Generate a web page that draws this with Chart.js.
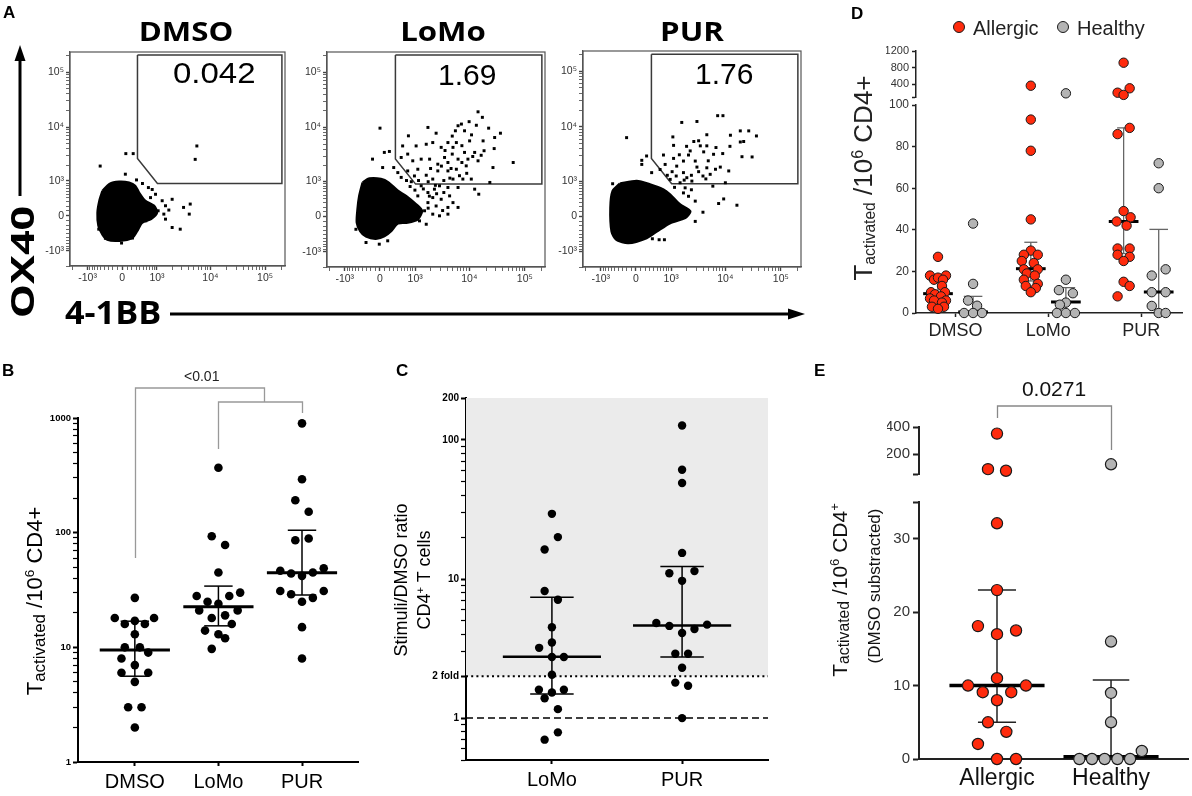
<!DOCTYPE html>
<html><head><meta charset="utf-8">
<script src="https://cdn.jsdelivr.net/npm/chart.js@4/dist/chart.umd.min.js"></script>
<style>
body{margin:0;width:1192px;height:796px;background:#fff;position:relative;overflow:hidden;font-family:'Liberation Sans',Arial,Helvetica,sans-serif;color:#000}
canvas{position:absolute}
.t{position:absolute;white-space:nowrap;line-height:1}
.b{font-weight:bold}
.os{font-family:'Open Sans',sans-serif;font-weight:bold}
.rot{transform-origin:50% 50%}
.sub{font-size:0.62em;vertical-align:-0.15em}
.sup{font-size:0.62em;vertical-align:0.6em}
.dot{position:absolute;border-radius:50%;border:1px solid #1a1a1a;box-sizing:border-box}
</style></head><body>
<div id="charts"></div>
<svg style="position:absolute;left:0;top:0" width="1192" height="796">
  <line x1="20" y1="196" x2="20" y2="58" stroke="#000" stroke-width="3"/>
  <polygon points="20,45 14.5,61 25.5,61" fill="#000"/>
  <line x1="170" y1="314" x2="790" y2="314" stroke="#000" stroke-width="3"/>
  <polygon points="805,314 788,308.5 788,319.5" fill="#000"/>
</svg>
<div class="t b" style="left:3px;top:4px;font-size:17px">A</div>
<div class="t b" style="left:851px;top:5px;font-size:17px">D</div>
<div class="t b" style="left:2px;top:362px;font-size:17px">B</div>
<div class="t b" style="left:396px;top:362px;font-size:17px">C</div>
<div class="t b" style="left:814px;top:362px;font-size:17px">E</div>

<div class="t os" style="left:86px;width:200px;text-align:center;top:18px;font-size:26px;transform:scaleX(1.2)">DMSO</div>
<div class="t os" style="left:343px;width:200px;text-align:center;top:18px;font-size:26px;transform:scaleX(1.2)">LoMo</div>
<div class="t os" style="left:592px;width:200px;text-align:center;top:18px;font-size:26px;transform:scaleX(1.2)">PUR</div>
<div class="t" style="left:173px;top:58px;font-size:30px;transform-origin:0 0;transform:scaleX(1.1)">0.042</div>
<div class="t" style="left:438px;top:60px;font-size:30px">1.69</div>
<div class="t" style="left:695px;top:59px;font-size:30px">1.76</div>
<div class="t os rot" style="left:22px;top:262px;font-size:32px;transform:translate(-50%,-50%) rotate(-90deg) scaleX(1.35)">OX40</div>
<div class="t os" style="left:65px;top:296px;font-size:32px;transform-origin:0 0;transform:scaleX(1.07)">4-1BB</div>

<div class="t rot" style="left:36px;top:601px;font-size:22px;transform:translate(-50%,-50%) rotate(-90deg)">T<span class="sub" style="font-size:0.77em">activated</span> /10<span class="sup">6</span> CD4+</div>
<div class="t rot" style="left:401px;top:580px;font-size:18px;transform:translate(-50%,-50%) rotate(-90deg)">Stimuli/DMSO ratio</div>
<div class="t rot" style="left:424px;top:580px;font-size:18px;transform:translate(-50%,-50%) rotate(-90deg)">CD4<span class="sup">+</span> T cells</div>
<div class="t rot" style="left:863px;top:178px;font-size:26px;color:#222;transform:translate(-50%,-50%) rotate(-90deg)">T<span class="sub" style="font-size:0.6em">activated</span> /10<span class="sup">6</span> CD4+</div>
<div class="t rot" style="left:840px;top:590px;font-size:21px;color:#111;transform:translate(-50%,-50%) rotate(-90deg)">T<span class="sub" style="font-size:0.75em">activated</span> /10<span class="sup">6</span> CD4<span class="sup">+</span></div>
<div class="t rot" style="left:874px;top:586px;font-size:17px;color:#111;transform:translate(-50%,-50%) rotate(-90deg)">(DMSO substracted)</div>

<div class="dot" style="left:953px;top:21px;width:12px;height:12px;background:#ff2b0d"></div>
<div class="t" style="left:973px;top:18px;font-size:20px;color:#222">Allergic</div>
<div class="dot" style="left:1057px;top:21px;width:12px;height:12px;background:#b4b4b4"></div>
<div class="t" style="left:1077px;top:18px;font-size:20px;color:#222">Healthy</div>

<script>
// ---------------- DATA ----------------
// Panel A: flow cytometry, values in arcsinh display units (asinh(v/490))
const flowMajorTicks = [-1000, 0, 1000, 10000, 100000];
const flowMajorLabels = ['-10³', '0', '10³', '10⁴', '10⁵'];
const gateVertices = [[0.64,6.72],[6.72,6.72],[6.72,1.35],[1.48,1.35],[0.64,2.4],[0.64,6.72]];
const gateLabels = ['0.042', '1.69', '1.76'];
const dmsoBlob = [[-0.83,1.04],[-0.54,1.33],[-0.13,1.42],[0.29,1.38],[0.54,1.25],[0.71,0.96],[0.96,0.63],[1.33,0.42],[1.46,0.13],[1.21,-0.13],[0.83,-0.29],[0.63,-0.63],[0.42,-0.92],[-0.13,-1.04],[-0.63,-1.0],[-0.83,-0.79],[-1.0,-0.42],[-1.04,0.13],[-0.96,0.63]];
const dmsoEvents = [[3.14,2.92],[3.07,2.36],[0.15,2.6],[0.46,2.6],[-0.93,2.08],[0.13,1.74],[0.6,1.5],[0.85,1.35],[1.1,1.18],[1.26,1.1],[1.4,0.9],[1.19,0.76],[1.68,0.63],[2.1,0.69],[2.58,0.35],[2.86,0.49],[2.82,0.07],[1.82,0.42],[1.96,0.24],[1.75,0.07],[1.82,-0.14],[2.1,-0.49],[2.44,-0.56],[1.51,0.21],[-0.99,-0.56],[-0.71,-0.94],[-0.03,-1.14],[0.43,-0.93],[0.99,-0.21],[1.19,0]];
const lomoBlob = [[-0.72,1.42],[-0.44,1.58],[0.04,1.56],[0.35,1.42],[0.74,1.07],[1.08,0.86],[1.5,0.51],[1.74,0.24],[1.57,-0.11],[1.15,-0.25],[0.74,-0.28],[0.46,-0.6],[0.18,-0.81],[-0.17,-0.92],[-0.58,-0.83],[-0.82,-0.6],[-0.96,-0.25],[-0.93,0.31],[-0.86,0.86]];
const lomoEvents = [[4.07,4.36],[4.25,4.13],[0,3.68],[3.24,3.78],[3.38,3.85],[3.51,3.57],[3.13,3.57],[1.99,3.71],[2.33,3.47],[1.18,3.36],[4.51,3.68],[5.0,3.47],[4.76,3.29],[3.72,3.15],[4.28,3.15],[4.74,2.83],[4.32,2.74],[3.93,2.67],[3.51,2.67],[3.17,3.08],[2.82,3.08],[3.03,2.88],[2.54,2.88],[2.19,3.08],[1.92,3.01],[1.5,2.94],[0.94,2.94],[0.18,2.67],[0.39,2.71],[-0.31,2.39],[0.11,2.04],[0.57,2.04],[0.88,2.46],[1.15,2.6],[1.36,2.32],[1.71,2.39],[2.06,2.39],[2.4,2.18],[2.68,2.46],[2.82,2.25],[3.24,2.39],[3.65,2.39],[4.07,2.32],[5.53,2.25],[4.69,2.04],[3.58,2.11],[3.17,1.97],[2.82,1.9],[2.4,1.9],[1.57,1.97],[1.15,1.9],[0.74,1.83],[0.88,1.63],[1.43,1.69],[1.92,1.72],[2.19,1.56],[3.03,1.56],[3.44,1.56],[3.79,1.56],[4.56,1.42],[2.47,1.28],[2.82,1.21],[3.24,1.21],[3.93,1.14],[4.1,0.93],[2.26,1.14],[1.99,1.0],[1.71,1.28],[1.57,0.86],[2.19,0.79],[2.54,0.72],[2.89,0.86],[3.03,0.58],[3.24,0.38],[2.82,0.38],[2.33,0.44],[1.99,0.58],[1.85,0.24],[2.47,0.03],[2.82,0.1],[2.19,0.1],[1.92,-0.32],[1.64,-0.18],[0.32,-1.01],[-0.03,-1.15],[-0.58,-1.08],[-1.0,-0.53],
  [1.3,1.45],[1.6,1.5],[2.0,1.45],[2.3,1.3],[2.65,1.5],[2.9,1.6],[3.3,1.7],[3.6,1.8],[2.1,2.0],[2.55,2.1],[2.95,2.0],[3.4,2.25],[3.85,2.5],[4.2,2.55],[3.0,2.6],[2.7,2.75],[3.4,2.95],[3.8,3.4],[3.0,3.35],[4.0,3.8],[3.7,3.95],[1.8,1.15],[2.05,0.85],[2.35,0.95],[2.65,1.0],[1.45,1.1],[1.25,1.25],[1.1,1.5],[2.0,0.35],[2.6,0.25]];
const purBlob = [[-0.67,1.35],[0.03,1.46],[0.58,1.32],[1.14,1.11],[1.42,0.9],[1.83,0.49],[2.25,0.21],[2.04,-0.07],[1.42,-0.28],[0.86,-0.63],[0.44,-0.9],[-0.32,-1.11],[-0.81,-0.97],[-1.01,-0.63],[-1.06,0.35],[-0.97,1.04]];
const purEvents = [[3.39,4.17],[3.61,4.17],[1.9,3.89],[2.53,3.93],[-0.39,3.26],[3.92,3.36],[4.33,3.54],[4.68,3.54],[5.0,3.33],[4.33,3.08],[4.47,3.1],[4.4,2.47],[4.82,2.46],[1.53,3.29],[1.56,2.94],[2.94,3.38],[2.6,3.13],[2.67,2.92],[2.94,2.92],[2.81,2.67],[3.32,2.85],[3.22,2.57],[2.25,2.71],[2.18,2.54],[0.44,2.5],[0.24,2.32],[0.24,2.15],[1.14,2.54],[1.21,2.15],[1.56,2.4],[1.69,2.08],[1.97,2.29],[2.46,2.29],[2.53,2.04],[2.94,2.01],[3.5,2.04],[3.85,1.88],[3.08,1.74],[2.78,1.67],[2.11,1.6],[1.67,1.67],[1.97,1.81],[0.65,1.81],[1.0,1.94],[1.42,1.53],[1.83,1.39],[2.32,1.46],[3.19,1.25],[3.71,1.39],[-0.97,1.35],[2.04,1.18],[1.97,0.97],[2.18,0.83],[2.46,0.63],[3.43,0.53],[3.64,0.72],[4.19,0.46],[2.78,0.17],[2.46,-0.21],[1.97,0],[0.68,-0.93],[0.96,-0.97],[1.18,-0.97],[-0.74,-0.97],[-0.32,-1.07],
  [2.0,1.5],[2.3,1.7],[2.6,1.85],[2.9,1.55],[3.3,1.95],[3.0,2.3],[3.6,2.6],[3.9,2.9],[1.8,2.55],[2.1,2.9],[2.4,3.1],[1.5,1.85],[1.3,1.7],[1.6,1.2],[2.3,1.1]];

// Panel B
const bCategories = ['DMSO', 'LoMo', 'PUR'];
const bDmso = [27,18,18,16,17,16,13,10,10,9,8,7,6,6,5,3,3,2];
const bDmsoJitter = [0,-0.24,0.23,-0.12,0,0.12,0,-0.12,0.06,0.16,-0.16,0,-0.16,0.16,0,-0.08,0.08,0];
const bLomo = [368,93,78,45,28,28,30,25,24,21,21,18,19,16,14,13,12,9.7];
const bLomoJitter = [0,-0.08,0.08,0,-0.26,0.13,0.26,-0.13,0,-0.23,0.23,-0.08,0.08,0.16,-0.16,0,0.08,-0.08];
const bPur = [898,292,192,152,86,89,46.5,44,42,45,49,31,29,25,27,31,15,8];
const bPurJitter = [0,0,-0.08,0.08,-0.08,0.08,-0.26,-0.13,0,0.13,0.26,-0.26,-0.13,0,0.13,0.26,0,0];
const bMedian = [9.5, 22.6, 44.7];
const bQ1 = [5.6, 15.4, 28.6];
const bQ3 = [16.9, 34.2, 105];
const bPLabel = '<0.01';

// Panel C
const cCategories = ['LoMo', 'PUR'];
const cLomo = [29.4,20,16.3,8.2,7.1,4.5,3.5,3.2,2.75,2.75,2.05,1.6,1.53,1.6,1.39,1.16,0.79,0.7];
const cLomoJitter = [0,0.046,-0.056,-0.056,0.046,0,0,-0.098,0,0.092,0,-0.1,0,0.092,-0.056,0.046,0.046,-0.056];
const cPur = [127,61,49,15.4,11,11.4,9.7,4.83,4.6,4.09,4.37,4.7,2.9,2.9,2.3,1.8,1.71,1.0];
const cPurJitter = [0,0,0,0,-0.098,0.095,0,-0.198,-0.098,0,0.095,0.192,-0.052,0.046,0,-0.052,0.046,0];
const cMedian = [2.76, 4.64];
const cQ1 = [1.49, 2.75];
const cQ3 = [7.4, 12.3];
const cTwoFold = 2;
const cOneFold = 1;
const cShadeTop = 200;

// Panel D
const dCategories = ['DMSO', 'LoMo', 'PUR'];
const dAllergic = [
  [27,18,18,16,17,16,13,10,10,9,8,7,6,6,5,3,3,2],
  [370,93,78,45,30,28,28,25,24,21,21,19,18,16,14,13,12,10],
  [920,308,203,150,89,86,49,46,44,42,31,31,28,27,25,15,13,8]];
const dAllergicJitter = [
  [0,-0.086,0.086,-0.043,0,0.054,0.043,-0.075,0.075,-0.032,0.032,-0.086,0.086,-0.043,0.043,-0.065,0.065,0],
  [0,0,0,0,0,-0.075,0.075,-0.097,0.032,-0.075,0.075,-0.043,0.043,-0.075,0.075,-0.054,0.054,0],
  [0,0.065,-0.065,0,0.065,-0.065,0,0.075,-0.075,0.032,-0.065,0.065,-0.065,0.065,0,0,0.065,-0.065]];
const dHealthy = [
  [43,14,6,3.5,0,0,0],
  [188,16,11,9.5,5,4,0,0,0],
  [72,60,21,18,10,10,3.4,0,0]];
const dHealthyJitter = [
  [0,0,-0.054,0.043,-0.097,0,0.097],
  [0,0,-0.075,0.075,0,-0.065,-0.097,0,0.097],
  [0,0,0.075,-0.075,-0.075,0.075,-0.075,0,0.075]];
const dMedAll = [9.3, 21.3, 44], dQ1All = [5.6, 15.4, 28.6], dQ3All = [16.9, 34, 89];
const dMedHea = [0.5, 5.3, 10.1], dQ1Hea = [0, 0, 0], dQ3Hea = [8, 12.2, 40.2];
const dUpperTicks = [100, 400, 800, 1200];
const dLowerTicks = [0, 20, 40, 60, 80, 100];

// Panel E
const eCategories = ['Allergic', 'Healthy'];
const eAllergic = [351,88,76,32.1,23,18.1,17,17.5,11,10,10,9.1,9.1,8,5,3.7,2.05,0,0];
const eAllergicJitter = [0,-0.079,0.079,0,0,-0.167,0,0.167,0,-0.254,0.254,-0.125,0.125,0,-0.079,0.082,-0.167,0,0.167];
const eHealthy = [124,16,9,5,1.1,0,0,0,0,0];
const eHealthyJitter = [0,0,0,0,0.27,-0.278,-0.167,-0.056,0.056,0.167];
const eMedian = [10, 0.3], eQ1 = [5, 0], eQ3 = [23, 10.75];
const eUpperTicks = [52, 200, 400];
const eLowerTicks = [0, 10, 20, 30, 35];
const ePLabel = '0.0271';

// ---------------- HELPERS ----------------
Chart.defaults.font.family = "'Liberation Sans', Arial, Helvetica, sans-serif";
Chart.defaults.animation = false;
Chart.defaults.responsive = false;
Chart.defaults.plugins.legend.display = false;
Chart.defaults.plugins.tooltip.enabled = false;
Chart.defaults.events = [];

const RED = '#ff2b0d', GREY = '#b4b4b4', OUT = '#1a1a1a';

function mount(area, yW, xH, pad) {
  const c = document.createElement('canvas');
  const W = Math.round(area.r - area.l + yW + pad.l + pad.r);
  const H = Math.round(area.b - area.t + xH + pad.t + pad.b);
  c.width = W; c.height = H;
  c.style.width = W + 'px'; c.style.height = H + 'px';
  c.style.left = (area.l - yW - pad.l) + 'px';
  c.style.top = (area.t - pad.t) + 'px';
  document.getElementById('charts').appendChild(c);
  return c;
}
const lay = p => ({padding: {left: p.l, right: p.r, top: p.t, bottom: p.b}});
const xy = a => a.map(([x, y]) => ({x, y}));
function seg(pts, color, w, order, dash) {
  return {type: 'line', data: xy(pts), borderColor: color, backgroundColor: color, borderWidth: w,
    pointRadius: 0, fill: false, tension: 0, order, borderDash: dash || [], clip: false, borderCapStyle: 'butt'};
}
function points(xc, vals, jit, st, keep) {
  const data = [];
  vals.forEach((v, i) => { if (!keep || keep(v)) data.push({x: xc + jit[i], y: v}); });
  return {type: 'scatter', data, pointRadius: st.r, pointBackgroundColor: st.fill,
    pointBorderColor: st.stroke || st.fill, pointBorderWidth: st.bw || 0, clip: false, order: 0};
}
function summary(xc, med, q1, q3, o) {
  const s = [];
  s.push(seg([[xc - o.mh, med], [xc + o.mh, med]], o.mc, o.mw, o.mOrder));
  s.push(seg([[xc, q1], [xc, q3]], o.ec, o.ew, 3));
  s.push(seg([[xc - o.ch, q3], [xc + o.ch, q3]], o.ec, o.ew, 3));
  if (o.lowCap) s.push(seg([[xc - o.ch, q1], [xc + o.ch, q1]], o.ec, o.ew, 3));
  return s;
}
function catAxis(cats, min, max, o) {
  return {type: 'linear', min, max,
    afterBuildTicks: s => { s.ticks = cats.map((c, i) => ({value: i})); },
    afterFit: s => { s.height = o.h; },
    ticks: {autoSkip: false, maxRotation: 0, callback: v => cats[v], font: {size: o.fs}, color: o.color, padding: o.pad},
    grid: {drawOnChartArea: false, drawTicks: true, tickLength: o.tick, tickWidth: o.tick > 0 ? o.bw : 0, tickColor: o.axis},
    border: {color: o.axis, width: o.bw}};
}
function hiddenX(min, max) { return {type: 'linear', min, max, display: false}; }
function valAxis(type, min, max, tickVals, labelFn, o) {
  return {type, min, max,
    afterBuildTicks: s => { s.ticks = tickVals.map(v => ({value: v, major: labelFn(v) !== ''})); },
    afterFit: s => { s.width = o.w; },
    ticks: {autoSkip: false, callback: v => labelFn(v), font: {size: o.fs, weight: o.fw || 'normal'}, color: o.color, padding: o.pad},
    grid: {drawOnChartArea: false, tickLength: o.tick, tickColor: o.axis,
      tickWidth: c => (c.tick && c.tick.major) ? o.bw : (o.minorW || o.bw)},
    border: {color: o.axis, width: o.bw}};
}
const framePlugin = {id: 'frame', afterDatasetsDraw(chart) {
  const {ctx, chartArea: a} = chart; ctx.save(); ctx.strokeStyle = '#555'; ctx.lineWidth = 1.2;
  ctx.strokeRect(a.left, a.top, a.right - a.left, a.bottom - a.top); ctx.restore(); }};
const bracketPlugin = {id: 'bracket', afterDraw(chart, args, o) {
  if (!o || !o.paths) return;
  const {ctx, chartArea: a, scales} = chart;
  ctx.save(); ctx.strokeStyle = o.color; ctx.lineWidth = o.width;
  o.paths.forEach(p => { ctx.beginPath();
    p.forEach(([xv, dy], i) => { const X = Math.round(scales.x.getPixelForValue(xv)) + 0.5, Y = a.top + dy;
      if (i) ctx.lineTo(X, Y); else ctx.moveTo(X, Y); });
    ctx.stroke(); });
  ctx.fillStyle = o.textColor; ctx.font = o.font; ctx.textAlign = 'center'; ctx.textBaseline = 'middle';
  ctx.fillText(o.text, scales.x.getPixelForValue(o.textX), a.top + o.textDy);
  ctx.restore(); }};

// ---------------- PANEL A ----------------
const biex = v => Math.asinh(v / 490);
function flowTickList() {
  const t = [-2000];
  for (let k = -10; k <= 10; k++) t.push(k * 100);
  for (let m = 2; m <= 10; m++) t.push(m * 1000);
  for (let m = 2; m <= 10; m++) t.push(m * 10000);
  t.push(200000);
  return t;
}
function flowAxis(isX) {
  const raw = flowTickList();
  const ax = {type: 'linear', min: isX ? -2.2 : -2.1, max: 6.85,
    afterBuildTicks: s => { s.ticks = raw.map(v => { const k = flowMajorTicks.indexOf(v);
      return {value: biex(v), major: k >= 0, lbl: k >= 0 ? flowMajorLabels[k] : ''}; }); },
    ticks: {autoSkip: false, maxRotation: 0, callback: (v, i, t) => t[i].lbl, font: {size: 10.5}, color: '#333', padding: 2},
    grid: {drawOnChartArea: false, tickLength: 4, tickColor: '#444', tickWidth: c => (c.tick && c.tick.major) ? 1.4 : 0.8},
    border: {color: '#555', width: 1.2}};
  if (isX) ax.afterFit = s => { s.height = 22; }; else ax.afterFit = s => { s.width = 36; };
  return ax;
}
function flowChart(area, blob, events) {
  const pad = {l: 4, r: 12, t: 12, b: 6};
  const cv = mount(area, 36, 22, pad);
  new Chart(cv, {type: 'scatter', data: {datasets: [
      {type: 'line', data: xy(blob.concat([blob[0]])), borderColor: '#000', backgroundColor: '#000', borderWidth: 2.5,
        fill: 'shape', tension: 0.25, pointRadius: 0, order: 3},
      seg(gateVertices, '#3a3a3a', 1.5, 2),
      {type: 'scatter', data: xy(events), pointStyle: 'rect', pointRadius: 2.1, pointBackgroundColor: '#000',
        pointBorderWidth: 0, order: 0, clip: false}
    ]},
    options: {layout: lay(pad), scales: {x: flowAxis(true), y: flowAxis(false)}},
    plugins: [framePlugin]});
}
flowChart({l: 70, r: 285, t: 52, b: 266}, dmsoBlob, dmsoEvents);
flowChart({l: 327, r: 545, t: 52, b: 267}, lomoBlob, lomoEvents);
flowChart({l: 583, r: 801, t: 51, b: 267}, purBlob, purEvents);

// ---------------- PANEL B ----------------
(function () {
  const area = {l: 78, r: 358, t: 418, b: 762}, yW = 30, xH = 40, pad = {l: 6, r: 12, t: 62, b: 6};
  const cv = mount(area, yW, xH, pad);
  const blk = {r: 4.3, fill: '#000'};
  const sumO = {mh: 0.42, ch: 0.17, mc: '#000', mw: 3, ec: '#000', ew: 1.5, lowCap: true, mOrder: 1};
  const logT = []; for (let e = 0; e < 3; e++) for (let m = 1; m <= 9; m++) logT.push(m * Math.pow(10, e)); logT.push(1000);
  const ds = [points(0, bDmso, bDmsoJitter, blk), points(1, bLomo, bLomoJitter, blk), points(2, bPur, bPurJitter, blk)];
  [0, 1, 2].forEach(i => ds.push(...summary(i, bMedian[i], bQ1[i], bQ3[i], sumO)));
  new Chart(cv, {type: 'scatter', data: {datasets: ds},
    options: {layout: lay(pad),
      scales: {
        x: catAxis(bCategories, -0.68, 2.67, {h: xH, fs: 20, color: '#000', pad: 4, tick: 4, bw: 2, axis: '#000'}),
        y: valAxis('logarithmic', 1, 1000, logT, v => [1, 10, 100, 1000].includes(v) ? String(v) : '',
          {w: yW, fs: 9.5, fw: 'bold', color: '#000', pad: 2, tick: 5, bw: 2, minorW: 1.2, axis: '#000'})},
      plugins: {bracket: {color: '#999', width: 1.3, textColor: '#222', font: '14px "Liberation Sans", Arial',
        text: bPLabel, textX: 0.8, textDy: -41,
        paths: [[[0, 140], [0, -30], [1.55, -30], [1.55, -16]], [[1, 31], [1, -16], [2, -16], [2, -5]]]}}},
    plugins: [bracketPlugin]});
})();

// ---------------- PANEL C ----------------
(function () {
  const area = {l: 466, r: 768, t: 398, b: 760}, yW = 40, xH = 40, pad = {l: 4, r: 12, t: 14, b: 6};
  const cv = mount(area, yW, xH, pad);
  const blk = {r: 4.2, fill: '#000'};
  const xmin = -0.66, xmax = 1.66;
  const sumO = {mh: 0.377, ch: 0.167, mc: '#000', mw: 2.5, ec: '#000', ew: 1.5, lowCap: true, mOrder: 1};
  const ticks = [0.5, 0.6, 0.7, 0.8, 0.9]; for (let e = 0; e < 2; e++) for (let m = 1; m <= 9; m++) ticks.push(m * Math.pow(10, e)); ticks.push(100, 200);
  const lab = {1: '1', 2: '2 fold', 10: '10', 100: '100', 200: '200'};
  const ds = [points(0, cLomo, cLomoJitter, blk), points(1, cPur, cPurJitter, blk)];
  [0, 1].forEach(i => ds.push(...summary(i, cMedian[i], cQ1[i], cQ3[i], sumO)));
  ds.push(seg([[xmin, cTwoFold], [xmax, cTwoFold]], '#000', 2, 5, [2, 3.2]));
  ds.push(seg([[xmin, cOneFold], [xmax, cOneFold]], '#000', 1.5, 5, [7, 4]));
  ds.push({type: 'line', data: xy([[xmin, cShadeTop], [xmax, cShadeTop]]), borderWidth: 0, borderColor: 'rgba(0,0,0,0)',
    backgroundColor: '#ebebeb', fill: {value: cTwoFold}, pointRadius: 0, order: 10});
  new Chart(cv, {type: 'scatter', data: {datasets: ds},
    options: {layout: lay(pad),
      scales: {
        x: catAxis(cCategories, xmin, xmax, {h: xH, fs: 20, color: '#000', pad: 4, tick: 4, bw: 2, axis: '#000'}),
        y: valAxis('logarithmic', 0.5, 200, ticks, v => lab[v] || '',
          {w: yW, fs: 10, fw: 'bold', color: '#000', pad: 2, tick: 5, bw: 2, minorW: 1.2, axis: '#000'})}}});
})();

// ---------------- PANEL D ----------------
(function () {
  const xmin = -0.426, xmax = 2.44, off = 0.189;
  const red = {r: 4.7, fill: RED, stroke: OUT, bw: 1}, gry = {r: 4.7, fill: GREY, stroke: OUT, bw: 1};
  // upper segment
  const aU = {l: 916, r: 1182, t: 51, b: 97}, padU = {l: 4, r: 12, t: 14, b: 14};
  const cvU = mount(aU, 30, 0, padU);
  const dsU = [];
  [0, 1, 2].forEach(i => {
    dsU.push(points(i - off, dAllergic[i], dAllergicJitter[i], red, v => v > 100));
    dsU.push(points(i + off, dHealthy[i], dHealthyJitter[i], gry, v => v > 100));
  });
  new Chart(cvU, {type: 'scatter', data: {datasets: dsU},
    options: {layout: lay(padU),
      scales: {x: hiddenX(xmin, xmax),
        y: valAxis('linear', 100, 1200, dUpperTicks, v => v === 100 ? '' : String(v),
          {w: 30, fs: 11, color: '#333', pad: 3, tick: 4, bw: 1.5, axis: '#222'})}}});
  // lower segment
  const aL = {l: 916, r: 1182, t: 105, b: 313}, padL = {l: 4, r: 12, t: 14, b: 4};
  const cvL = mount(aL, 30, 30, padL);
  const dsL = [];
  [0, 1, 2].forEach(i => {
    dsL.push(points(i - off, dAllergic[i], dAllergicJitter[i], red, v => v <= 100));
    dsL.push(points(i + off, dHealthy[i], dHealthyJitter[i], gry, v => v <= 100));
    dsL.push(...summary(i - off, dMedAll[i], dQ1All[i], dQ3All[i], {mh: 0.16, ch: 0.07, mc: '#000', mw: 3, ec: '#666', ew: 1.3, lowCap: true, mOrder: 0}));
    dsL.push(...summary(i + off, dMedHea[i], dQ1Hea[i], dQ3Hea[i], {mh: 0.16, ch: 0.1, mc: '#000', mw: 3, ec: '#666', ew: 1.3, lowCap: false, mOrder: 0}));
  });
  new Chart(cvL, {type: 'scatter', data: {datasets: dsL},
    options: {layout: lay(padL),
      scales: {x: catAxis(dCategories, xmin, xmax, {h: 30, fs: 18, color: '#222', pad: 3, tick: 4, bw: 1.5, axis: '#222'}),
        y: valAxis('linear', 0, 100, dLowerTicks, v => String(v),
          {w: 30, fs: 12, color: '#333', pad: 3, tick: 4, bw: 1.5, axis: '#222'})}}});
})();

// ---------------- PANEL E ----------------
(function () {
  const xmin = -0.684, xmax = 1.675;
  const red = {r: 5.6, fill: RED, stroke: OUT, bw: 1.2}, gry = {r: 5.6, fill: GREY, stroke: OUT, bw: 1.2};
  const axO = {fs: 15, color: '#333', pad: 3, tick: 6, bw: 2, axis: '#222'};
  const aU = {l: 919, r: 1188, t: 427, b: 474}, padU = {l: 4, r: 12, t: 50, b: 16};
  const cvU = mount(aU, 32, 0, padU);
  new Chart(cvU, {type: 'scatter', data: {datasets: [
      points(0, eAllergic, eAllergicJitter, red, v => v > 35), points(1, eHealthy, eHealthyJitter, gry, v => v > 35)]},
    options: {layout: lay(padU),
      scales: {x: hiddenX(xmin, xmax),
        y: valAxis('linear', 52, 400, eUpperTicks, v => v === 52 ? '' : String(v), Object.assign({w: 32}, axO))},
      plugins: {bracket: {color: '#888', width: 1.3, textColor: '#111', font: '21px "Liberation Sans", Arial',
        text: ePLabel, textX: 0.5, textDy: -37, paths: [[[0, -9], [0, -21], [1, -21], [1, 23]]]}}},
    plugins: [bracketPlugin]});
  const aL = {l: 919, r: 1188, t: 502, b: 759}, padL = {l: 4, r: 12, t: 16, b: 6};
  const cvL = mount(aL, 32, 40, padL);
  const ds = [points(0, eAllergic, eAllergicJitter, red, v => v <= 35), points(1, eHealthy, eHealthyJitter, gry, v => v <= 35)];
  [0, 1].forEach(i => ds.push(...summary(i, eMedian[i], eQ1[i], eQ3[i],
    {mh: 0.417, ch: i ? 0.16 : 0.167, mc: '#000', mw: 3.5, ec: '#222', ew: 1.5, lowCap: i === 0, mOrder: 2})));
  new Chart(cvL, {type: 'scatter', data: {datasets: ds},
    options: {layout: lay(padL),
      scales: {x: catAxis(eCategories, xmin, xmax, {h: 40, fs: 23, color: '#111', pad: 6, tick: 0, bw: 2, axis: '#222'}),
        y: valAxis('linear', 0, 35, eLowerTicks, v => v === 35 ? '' : String(v), Object.assign({w: 32}, axO))}}});
})();
</script>
</body></html>
